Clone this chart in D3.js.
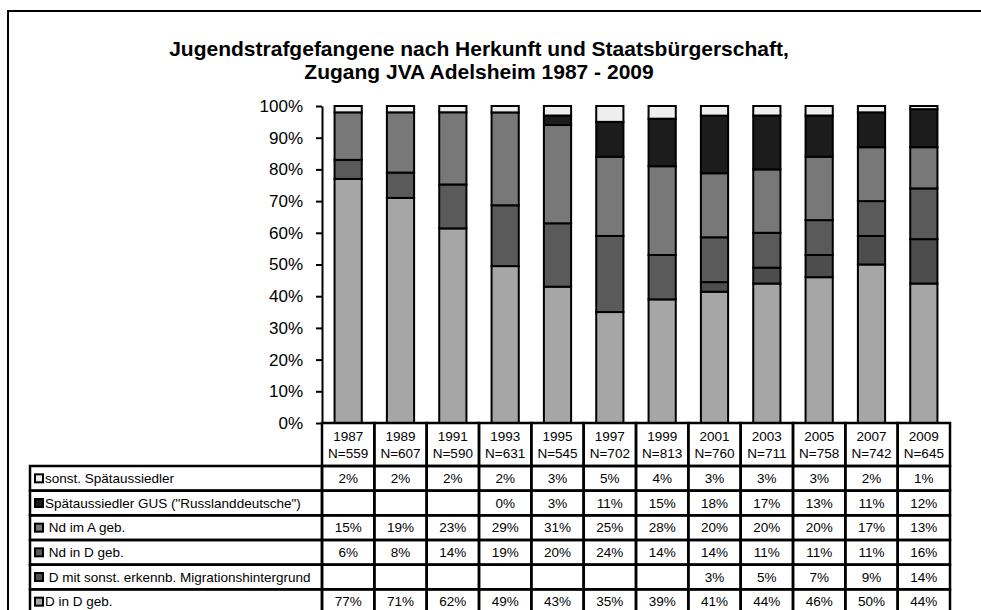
<!DOCTYPE html>
<html>
<head>
<meta charset="utf-8">
<script src="https://cdn.jsdelivr.net/npm/d3@7"></script>
<style>
    body { margin: 0; background: #fff; }
    svg { font-family: "Liberation Sans", Arial, sans-serif; }
    .cell-text { white-space: pre; }
</style>
</head>
<body>
<svg id="chart" width="981" height="610"></svg>
<script>
// --- Données ---
const years = ["1987", "1989", "1991", "1993", "1995", "1997", "1999", "2001", "2003", "2005", "2007", "2009"];
const nValues = [559, 607, 590, 631, 545, 702, 813, 760, 711, 758, 742, 645];

const sonstSpaet = [2, 2, 2, 2, 3, 5, 4, 3, 3, 3, 2, 1];
const gusSpaet = [null, null, null, 0, 3, 11, 15, 18, 17, 13, 11, 12];
const ndImA = [15, 19, 23, 29, 31, 25, 28, 20, 20, 20, 17, 13];
const ndInD = [6, 8, 14, 19, 20, 24, 14, 14, 11, 11, 11, 16];
const dMigration = [null, null, null, null, null, null, null, 3, 5, 7, 9, 14];
const dInD = [77, 71, 62, 49, 43, 35, 39, 41, 44, 46, 50, 44];

// Ordre du tableau (haut -> bas)
const seriesLabels = [
    "sonst. Spätaussiedler",
    "Spätaussiedler GUS (\"Russlanddeutsche\")",
    " Nd im A geb.",
    " Nd in D geb.",
    " D mit sonst. erkennb. Migrationshintergrund",
    "D in D geb."
];
const seriesValues = [sonstSpaet, gusSpaet, ndImA, ndInD, dMigration, dInD];
const seriesColors = ["#eeeeee", "#1c1c1c", "#787878", "#5a5a5a", "#4d4d4d", "#a6a6a6"];

const svg = d3.select("#chart");

// Cadre
svg.append("rect")
    .attr("x", 8).attr("y", 11)
    .attr("width", 1000).attr("height", 700)
    .attr("fill", "none").attr("stroke", "#000").attr("stroke-width", 2);

// Titre
const title = svg.append("text")
    .attr("text-anchor", "middle")
    .attr("font-weight", "bold")
    .attr("font-size", 21);
title.append("tspan").attr("x", 479).attr("y", 56)
    .text("Jugendstrafgefangene nach Herkunft und Staatsbürgerschaft,");
title.append("tspan").attr("x", 479).attr("y", 78.5)
    .text("Zugang JVA Adelsheim 1987 - 2009");

// --- Échelles ---
const plotLeft = 322, plotRight = 950, plotTop = 106, plotBottom = 423;

const x = d3.scaleBand().domain(years).range([plotLeft, plotRight])
    .paddingInner(0.48).paddingOuter(0.24);
const col = d3.scaleBand().domain(years).range([plotLeft, plotRight]);
const y = d3.scaleLinear().domain([0, 1]).range([plotBottom, plotTop]);

// Données empilées (bas -> haut)
const rows = years.map((yr, i) => {
    const r = {year: yr};
    seriesLabels.forEach((s, k) => r[k] = seriesValues[k][i] || 0);
    return r;
});
const stackKeys = [5, 4, 3, 2, 1, 0];
const stacked = d3.stack().keys(stackKeys).offset(d3.stackOffsetExpand)(rows);

svg.append("g").selectAll("g")
    .data(stacked)
    .join("g")
    .attr("fill", d => seriesColors[d.key])
    .selectAll("rect")
    .data(d => d.filter(p => p[1] - p[0] > 0))
    .join("rect")
    .attr("x", d => x(d.data.year))
    .attr("width", x.bandwidth())
    .attr("y", d => y(d[1]))
    .attr("height", d => y(d[0]) - y(d[1]))
    .attr("stroke", "#000")
    .attr("stroke-width", 2);

// Axe Y
const yAxis = svg.append("g")
    .attr("transform", `translate(${plotLeft},0)`)
    .call(d3.axisLeft(y).ticks(10).tickFormat(d3.format(".0%")).tickSize(6).tickSizeOuter(0).tickPadding(13));
yAxis.select(".domain").attr("stroke-width", 2);
yAxis.selectAll(".tick line").attr("stroke-width", 2);
yAxis.selectAll("text")
    .attr("font-size", 17)
    .attr("font-family", "Liberation Sans, Arial, sans-serif")
    .attr("fill", "#000");

// --- Tableau de données ---
const headTop = plotBottom, headBottom = 466;
const rowY = d3.scaleBand().domain(seriesLabels).range([headBottom, 614]);
const labelLeft = 30;
const cellFont = 13.5;
const lineStyle = sel => sel.attr("fill", "none").attr("stroke", "#000").attr("stroke-width", 2.5);

const table = svg.append("g");

// En-tête (années)
const head = table.append("g").selectAll("g")
    .data(years)
    .join("g");
head.append("rect")
    .attr("x", d => col(d)).attr("y", headTop)
    .attr("width", col.bandwidth()).attr("height", headBottom - headTop)
    .call(lineStyle);
head.append("text")
    .attr("x", d => col(d) + col.bandwidth() / 2)
    .attr("y", headTop + 18)
    .attr("text-anchor", "middle").attr("font-size", cellFont)
    .text(d => d);
head.append("text")
    .attr("x", d => col(d) + col.bandwidth() / 2)
    .attr("y", headTop + 35)
    .attr("text-anchor", "middle").attr("font-size", cellFont)
    .text((d, i) => "N=" + nValues[i]);

// Lignes des séries
const rowG = table.append("g").selectAll("g")
    .data(seriesLabels)
    .join("g");

rowG.append("rect")
    .attr("x", labelLeft).attr("y", d => rowY(d))
    .attr("width", plotLeft - labelLeft).attr("height", rowY.bandwidth())
    .call(lineStyle);

rowG.append("rect")
    .attr("x", labelLeft + 5)
    .attr("y", d => rowY(d) + rowY.bandwidth() / 2 - 4)
    .attr("width", 8).attr("height", 8)
    .attr("fill", (d, k) => seriesColors[k])
    .attr("stroke", "#000").attr("stroke-width", 2);

rowG.append("text")
    .attr("class", "cell-text")
    .attr("x", labelLeft + 15)
    .attr("y", d => rowY(d) + rowY.bandwidth() / 2)
    .attr("dy", "0.35em")
    .attr("font-size", cellFont)
    .text(d => d);

rowG.each(function (label, k) {
    const g = d3.select(this);
    g.selectAll("rect.val")
        .data(years)
        .join("rect")
        .attr("class", "val")
        .attr("x", d => col(d)).attr("y", rowY(label))
        .attr("width", col.bandwidth()).attr("height", rowY.bandwidth())
        .call(lineStyle);
    g.selectAll("text.val")
        .data(years)
        .join("text")
        .attr("class", "val")
        .attr("x", d => col(d) + col.bandwidth() / 2)
        .attr("y", rowY(label) + rowY.bandwidth() / 2)
        .attr("dy", "0.35em")
        .attr("text-anchor", "middle").attr("font-size", cellFont)
        .text((d, i) => seriesValues[k][i] == null ? "" : seriesValues[k][i] + "%");
});
</script>
</body>
</html>
